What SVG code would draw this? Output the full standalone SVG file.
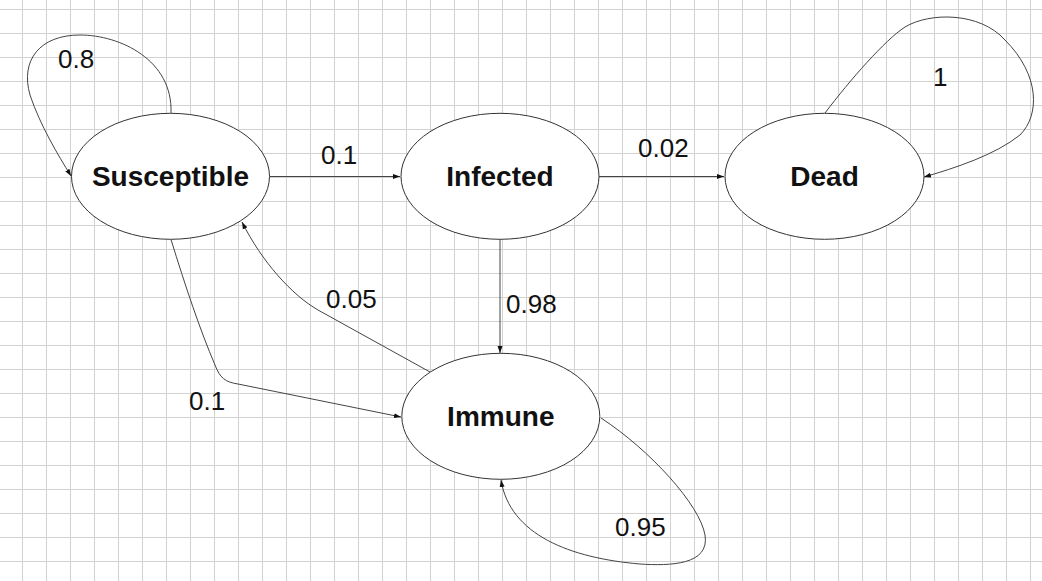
<svg xmlns="http://www.w3.org/2000/svg" width="1042" height="581" viewBox="0 0 1042 581">
  <defs>
    <pattern id="grid" width="24" height="24" patternUnits="userSpaceOnUse" x="22" y="9">
      <path d="M0.5,0 V24 M0,0.5 H24" fill="none" stroke="#d2d2d2" stroke-width="1"/>
    </pattern>
    <marker id="arr" markerWidth="8" markerHeight="6" refX="7" refY="3" orient="auto" markerUnits="userSpaceOnUse">
      <path d="M0,0.5 L7,3 L0,5.5 Z" fill="#111"/>
    </marker>
  </defs>
  <style>
    .node ellipse { fill: #ffffff; stroke: #333333; stroke-width: 1; }
    .node text { font-family: "Liberation Sans", Arial, sans-serif; font-weight: bold; font-size: 28px; fill: #111; text-anchor: middle; }
    .edge { fill: none; stroke: #444444; stroke-width: 1; marker-end: url(#arr); }
    .lbl { font-family: "Liberation Sans", Arial, sans-serif; font-size: 26px; fill: #111; }
  </style>
  <rect width="1042" height="581" fill="#ffffff"/>
  <rect width="1042" height="581" fill="url(#grid)"/>

  <g id="connectors">
    <path class="edge" d="M171,113 C173,60 120,35 80,35 C40,35 20,60 30,95 C40,125 58,155 71,176"/>
    <path class="edge" d="M270,176.5 H400"/>
    <path class="edge" d="M599,176.5 H724"/>
    <path class="edge" d="M825,113 C850,80 885,40 905,27 C930,12 980,12 1005,40 C1040,75 1040,115 1020,135 C995,155 955,168 924,177"/>
    <path class="edge" d="M500,239.5 V353"/>
    <path class="edge" d="M171,239.5 C185,285 200,330 215,365 C220,378 225,382 238,384 L401,417"/>
    <path class="edge" d="M430,372 L318,310 C292,295 262,262 242,222"/>
    <path class="edge" d="M601,418 C650,450 700,505 705,535 C710,565 670,566 640,564 C570,558 510,535 501,480"/>
  </g>

  <g id="node-susceptible" class="node">
    <ellipse cx="170.5" cy="176.3" rx="99" ry="63"/>
    <text x="170.5" y="186">Susceptible</text>
  </g>
  <g id="node-infected" class="node">
    <ellipse cx="500" cy="176.3" rx="99" ry="63"/>
    <text x="500" y="186">Infected</text>
  </g>
  <g id="node-dead" class="node">
    <ellipse cx="824.5" cy="176.3" rx="99.5" ry="63"/>
    <text x="824.5" y="186">Dead</text>
  </g>
  <g id="node-immune" class="node">
    <ellipse cx="500.8" cy="416.3" rx="99" ry="63"/>
    <text x="500.8" y="426">Immune</text>
  </g>

  <g id="labels">
    <text class="lbl" x="58" y="68">0.8</text>
    <text class="lbl" x="321" y="164">0.1</text>
    <text class="lbl" x="638" y="157">0.02</text>
    <text class="lbl" x="933" y="86">1</text>
    <text class="lbl" x="506" y="313">0.98</text>
    <text class="lbl" x="326" y="308">0.05</text>
    <text class="lbl" x="189" y="410">0.1</text>
    <text class="lbl" x="615" y="536">0.95</text>
  </g>
</svg>
